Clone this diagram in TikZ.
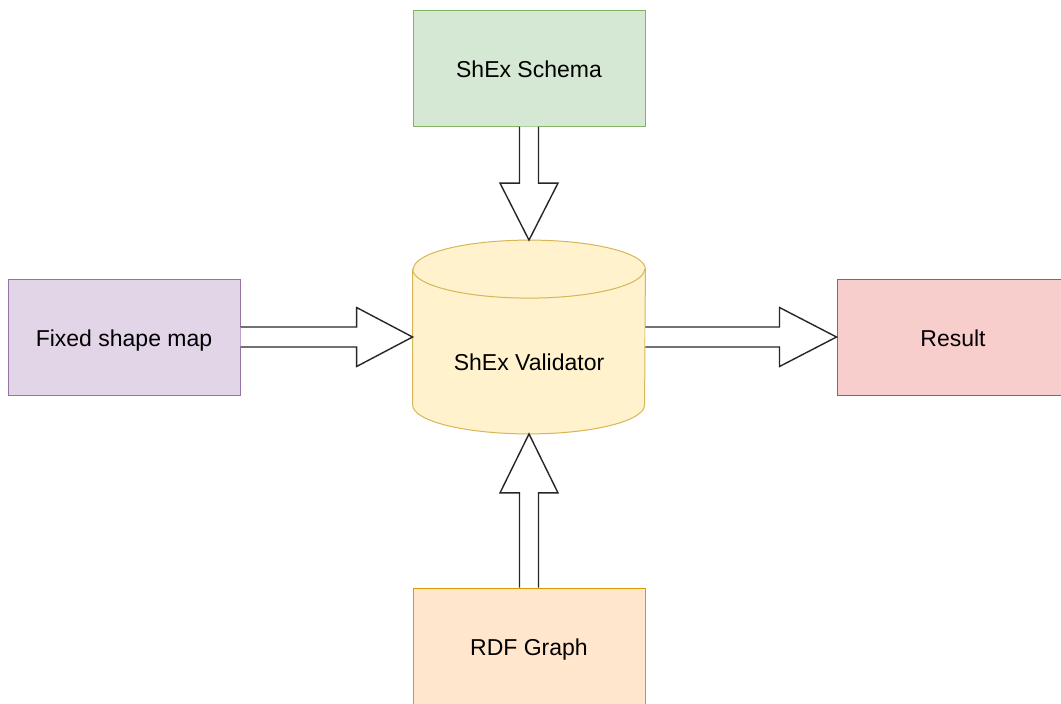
\documentclass[tikz,border=0pt]{standalone}
\usepackage{fontspec}
\setmainfont{Liberation Sans}
\usetikzlibrary{calc}

\definecolor{schemafill}{HTML}{D5E8D4}
\definecolor{schemaline}{HTML}{82B366}
\definecolor{mapfill}{HTML}{E1D5E7}
\definecolor{mapline}{HTML}{9673A6}
\definecolor{resultfill}{HTML}{F8CECC}
\definecolor{resultline}{HTML}{B85450}
\definecolor{graphfill}{HTML}{FFE6CC}
\definecolor{graphline}{HTML}{D79B00}
\definecolor{validfill}{HTML}{FFF2CC}
\definecolor{validline}{HTML}{D6B656}

\begin{document}
\begin{tikzpicture}[x=0.5pt,y=-0.5pt]
\tikzset{
  label text/.style={font=\fontsize{11.5}{14}\selectfont, text height=11.2pt, text depth=2pt},
  box/.style={draw, line width=0.5pt, minimum width=116pt, minimum height=58pt,
    inner sep=0pt, label text},
  fatarrow/.style={draw=black!85, line width=0.7pt, fill=white, line join=miter}
}
\useasboundingbox (0,0) rectangle (1061,703);
\node [box, fill=schemafill, draw=schemaline] (schema) at (529,68) {ShEx Schema};
\node [box, fill=mapfill, draw=mapline] (map) at (124,337) {Fixed shape map};
\node [box, fill=resultfill, draw=resultline] (result) at (953,337) {Result};
\node [box, fill=graphfill, draw=graphline] (graph) at (529,646) {RDF Graph};
% validator drawn as a cylinder round an empty box
\node [minimum width=116pt, minimum height=96.5pt, inner sep=0pt] (valid) at (529,337) {};
\draw [fill=validfill, draw=validline, line width=0.5pt]
  ($(valid.north west)+(0,29)$) -- ($(valid.south west)+(0,-29)$)
  arc [x radius=116, y radius=29, start angle=180, end angle=0]
  -- ($(valid.north east)+(0,29)$)
  arc [x radius=116, y radius=29, start angle=0, end angle=-180] -- cycle;
\draw [draw=validline, line width=0.5pt] ($(valid.north west)+(0,29)$)
  arc [x radius=116, y radius=29, start angle=180, end angle=0];
\node [label text] (validtext) at ($(valid.center)+(0,24)$) {ShEx Validator};
% schema to validator
\draw [fatarrow] ($(schema.south)+(-9.5,0)$) -- ($(valid.north)+(-9.5,-57)$) -- ++(-19.5,0)
  -- (valid.north) -- ($(valid.north)+(29,-57)$) -- ++(-19.5,0) -- ($(schema.south)+(9.5,0)$);
% graph to validator
\draw [fatarrow] ($(graph.north)+(-9.5,0)$) -- ($(valid.south)+(-9.5,59)$) -- ++(-19.5,0)
  -- (valid.south) -- ($(valid.south)+(29,59)$) -- ++(-19.5,0) -- ($(graph.north)+(9.5,0)$);
% map to validator
\draw [fatarrow] ($(map.east)+(0,-10)$) -- ($(valid.west)+(-56,-10)$) -- ++(0,-19.5)
  -- (valid.west) -- ($(valid.west)+(-56,29.5)$) -- ++(0,-19.5) -- ($(map.east)+(0,10)$);
% validator to result
\draw [fatarrow] ($(valid.east)+(0,-10)$) -- ($(result.west)+(-57,-10)$) -- ++(0,-19.5)
  -- (result.west) -- ($(result.west)+(-57,29.5)$) -- ++(0,-19.5) -- ($(valid.east)+(0,10)$);
\end{tikzpicture}
\end{document}
